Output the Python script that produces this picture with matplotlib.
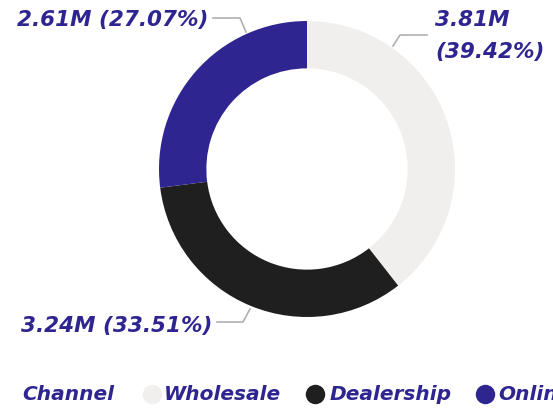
import matplotlib
matplotlib.use("Agg")
import matplotlib.pyplot as plt

categories = ["Wholesale", "Dealership", "Online"]
values = [3.81, 3.24, 2.61]
percents = [39.42, 33.51, 27.07]
legend_title = "Channel"

colors = ["#f0efee", "#1f1f1f", "#2e2590"]
text_color = "#2e2590"

W, H = 553, 410
fig = plt.figure(figsize=(W / 100, H / 100), dpi=100)
ax = fig.add_axes([0, 0, 1, 1])

cx, cy, R = 307, H - 170, 148
ax.pie(values, colors=colors, startangle=90, counterclock=False,
       radius=R, center=(cx, cy), wedgeprops=dict(width=R * 0.32, linewidth=0),
       frame=True)
ax.set_xlim(0, W)
ax.set_ylim(0, H)
ax.set_aspect("equal")
ax.axis("off")

lab_font = dict(family="DejaVu Sans", weight="bold", style="italic", size=15.5, color=text_color)
line_kw = dict(color="#b0b0b0", lw=1.2)

def Y(y):
    return H - y

# Online label (top-left)
ax.plot([213, 240, 246], [Y(19), Y(19), Y(33)], **line_kw)
ax.text(208, Y(20), f"{values[2]:.2f}M ({percents[2]:.2f}%)", ha="right", va="center", **lab_font)
# Wholesale label (top-right)
ax.plot([393, 400, 427], [Y(47), Y(36), Y(36)], **line_kw)
ax.text(435, Y(20), f"{values[0]:.2f}M", ha="left", va="center", **lab_font)
ax.text(435, Y(52), f"({percents[0]:.2f}%)", ha="left", va="center", **lab_font)
# Dealership label (bottom-left)
ax.plot([217, 243, 250], [Y(323), Y(323), Y(310)], **line_kw)
ax.text(212, Y(326), f"{values[1]:.2f}M ({percents[1]:.2f}%)", ha="right", va="center", **lab_font)

# Legend
leg_font = dict(family="DejaVu Sans", weight="bold", style="italic", size=14.5, color=text_color)
ly = Y(395)
ax.text(22, ly, legend_title, ha="left", va="center", **leg_font)
marker_x = [152, 315, 485]
text_x = [164, 330, 498]
for mx, tx, c, lab in zip(marker_x, text_x, colors, categories):
    ax.plot([mx], [ly], "o", ms=14, color=c, mec="none")
    ax.text(tx, ly, lab, ha="left", va="center", **leg_font)

fig.savefig("out.png", dpi=100)
